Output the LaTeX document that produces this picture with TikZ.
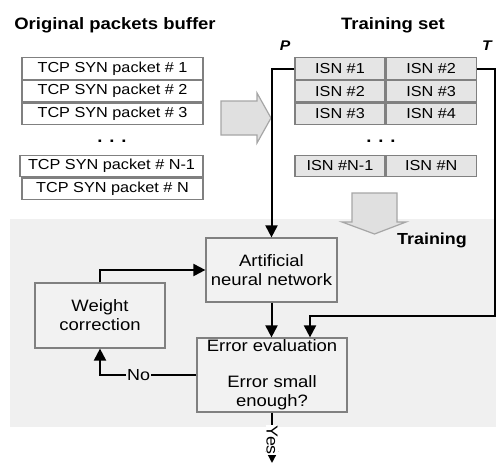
\documentclass[tikz,border=0pt]{standalone}
\usepackage{fontspec}
\setmainfont{Liberation Sans}[FakeStretch=1.12]
\usetikzlibrary{arrows.meta, positioning}

\definecolor{bgcol}{gray}{0.94}
\definecolor{boxcol}{gray}{0.95}
\definecolor{cellcol}{gray}{0.90}
\definecolor{bigcol}{gray}{0.88}
\definecolor{edgecol}{gray}{0.50}

\begin{document}
\begin{tikzpicture}[x=1pt, y=-1pt,
    pkt/.style={draw=edgecol, line width=1.2pt, fill=white, minimum width=181pt,
      minimum height=21.5pt, inner sep=0pt, font=\fontsize{14.5}{16}\selectfont},
    cell/.style={draw=edgecol, line width=1.2pt, fill=cellcol, minimum width=90pt,
      minimum height=21.5pt, inner sep=0pt, font=\fontsize{14.5}{16}\selectfont},
    block/.style={draw=edgecol, line width=1.2pt, fill=boxcol, inner sep=0pt,
      align=center, font=\fontsize{16.5}{19}\selectfont},
    head/.style={font=\bfseries\fontsize{16.5}{19}\selectfont},
    bigarrow/.style={draw=gray!70, line width=1.2pt, fill=bigcol},
    line/.style={line width=2pt, -{Triangle[length=12pt,width=12pt]}}]

  \useasboundingbox (0,0) rectangle (496,463);
  \fill[bgcol] (10,219) rectangle (496,427);

  % buffer
  \node[head] (buf) at (115,25) {Original packets buffer};
  \node[pkt] (p1) at (112.5,68.5) {TCP SYN packet \# 1};
  \node[pkt, below=0pt of p1] (p2) {TCP SYN packet \# 2};
  \node[pkt, below=0pt of p2] (p3) {TCP SYN packet \# 3};
  \node[head] (pdots) at (112,141) {. . .};
  \node[pkt, minimum width=183pt] (pn1) at (111.5,166) {TCP SYN packet \# N-1};
  \node[pkt, below=0pt of pn1.south east, anchor=north east] (pn) {TCP SYN packet \# N};

  % training set
  \node[head] (tset) at (393,25) {Training set};
  \node[font=\bfseries\itshape\fontsize{14}{16}\selectfont] (plab) at (285,46) {P};
  \node[font=\bfseries\itshape\fontsize{14}{16}\selectfont] (tlab) at (487,46) {T};
  \node[cell] (i1a) at (340,68.5) {ISN \#1};
  \node[cell, right=0pt of i1a] (i1b) {ISN \#2};
  \node[cell, below=0pt of i1a] (i2a) {ISN \#2};
  \node[cell, right=0pt of i2a] (i2b) {ISN \#3};
  \node[cell, below=0pt of i2a] (i3a) {ISN \#3};
  \node[cell, right=0pt of i3a] (i3b) {ISN \#4};
  \node[head] (idots) at (381,141) {. . .};
  \node[cell] (ina) at (340,166) {ISN \#N-1};
  \node[cell, right=0pt of ina] (inb) {ISN \#N};

  % big arrows
  \draw[bigarrow] (221,101) -- (257,101) -- (257,93) -- (271,118) -- (257,143)
    -- (257,135) -- (221,135) -- cycle;
  \draw[bigarrow] (352,193) -- (397,193) -- (397,222) -- (406,222) -- (374.5,234)
    -- (342,222) -- (352,222) -- cycle;
  \node[head, font=\bfseries\fontsize{16}{19}\selectfont] (train) at (432,240) {Training};

  % training loop
  \node[block, minimum width=131pt, minimum height=64pt] (ann) at (271.5,270)
    {Artificial\\neural network};
  \node[block, minimum width=130pt, minimum height=65pt] (wc) at (100,315.5)
    {Weight\\correction};
  \node[block, minimum width=150pt, minimum height=74pt] (err) at (272,375)
    {Error evaluation\\[17pt]Error small\\enough?};

  \coordinate (tr) at (495,316);
  \coordinate (tin) at (310,330);
  \coordinate (out) at (272,463);

  \draw[line] (i1a.west) -| (ann.north);
  \draw[line] (i1b.east) -| (tr) -| (tin |- err.north);
  \draw[line] (wc.north) |- (ann.west);
  \draw[line] (ann.south) -- (ann.south |- err.north);
  \draw[line] (err.west) -| node[pos=0.3, fill=bgcol, inner sep=1pt,
    font=\fontsize{16}{19}\selectfont] {No} (wc.south);
  \draw[line] (err.south) -- node[pos=0.55, rotate=-90, fill=white, inner sep=0.5pt,
    font=\fontsize{16}{19}\selectfont] {Yes} (out);
\end{tikzpicture}
\end{document}
